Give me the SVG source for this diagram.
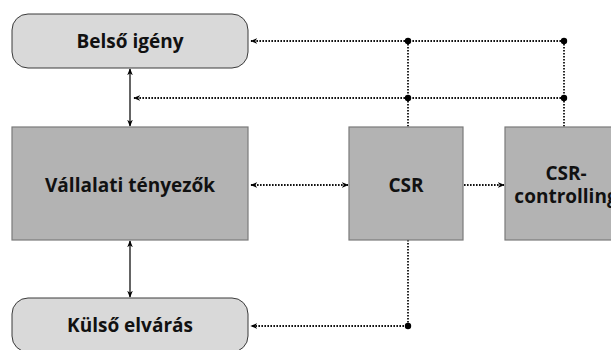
<svg xmlns="http://www.w3.org/2000/svg" width="611" height="350" viewBox="0 0 611 350">
<defs>
<style>
.rnd{fill:#d9d9d9;stroke:#3a3a3a;stroke-width:1}
.blk{fill:#b3b3b3;stroke:#7a7a7a;stroke-width:1.2}
.lbl{font-family:"Open Sans","Noto Sans",sans-serif;font-weight:bold;font-size:19px;fill:#111;text-anchor:middle}
.dot{fill:none;stroke:#111;stroke-width:1.8;stroke-dasharray:1.6 1.4}
.sol{fill:none;stroke:#111;stroke-width:1.3}
.jn{fill:#000}
</style>
<marker id="ah" viewBox="0 0 10 10" refX="9" refY="5" markerWidth="7" markerHeight="7" markerUnits="userSpaceOnUse" orient="auto-start-reverse">
<path d="M0,1 L10,5 L0,9 L3,5 Z" fill="#000"/>
</marker>
</defs>
<g id="connectors">
<line class="sol" x1="130" y1="69" x2="130" y2="126" marker-start="url(#ah)" marker-end="url(#ah)"/>
<line class="sol" x1="130" y1="241" x2="130" y2="297" marker-start="url(#ah)" marker-end="url(#ah)"/>
<polyline class="dot" points="564,41 251,41" marker-end="url(#ah)"/>
<polyline class="dot" points="564,98 134,98" marker-end="url(#ah)"/>
<line class="dot" x1="408" y1="41" x2="408" y2="127"/>
<line class="dot" x1="564" y1="41" x2="564" y2="127"/>
<line class="dot" x1="251" y1="185" x2="348" y2="185" marker-start="url(#ah)" marker-end="url(#ah)"/>
<line class="dot" x1="464" y1="185" x2="504" y2="185" marker-end="url(#ah)"/>
<polyline class="dot" points="408,240 408,326 251,326" marker-end="url(#ah)"/>
<circle class="jn" cx="408" cy="41" r="3.2"/>
<circle class="jn" cx="564" cy="41" r="3.2"/>
<circle class="jn" cx="408" cy="98" r="3.2"/>
<circle class="jn" cx="564" cy="98" r="3.2"/>
<circle class="jn" cx="408" cy="326" r="3.2"/>
</g>
<g id="belso">
<rect class="rnd" x="12" y="14" width="236" height="54" rx="16"/>
<text class="lbl" x="130" y="48">Belső igény</text>
</g>
<g id="vallalati">
<rect class="blk" x="12" y="127" width="236" height="113"/>
<text class="lbl" x="130" y="192">Vállalati tényezők</text>
</g>
<g id="csr">
<rect class="blk" x="349" y="127" width="114" height="113"/>
<text class="lbl" x="406" y="192">CSR</text>
</g>
<g id="csrcontrolling">
<rect class="blk" x="505" y="127" width="120" height="113"/>
<text class="lbl" x="566" y="180">CSR-</text>
<text class="lbl" x="566" y="203">controlling</text>
</g>
<g id="kulso">
<rect class="rnd" x="12" y="298" width="236" height="54" rx="16"/>
<text class="lbl" x="130" y="332">Külső elvárás</text>
</g>
</svg>
